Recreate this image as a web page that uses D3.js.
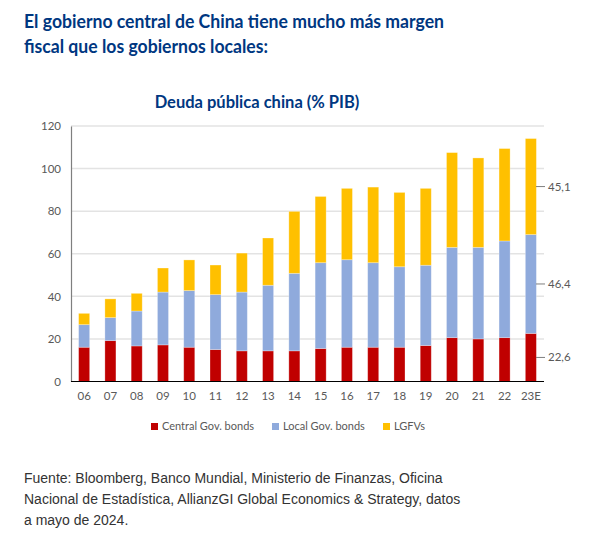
<!DOCTYPE html>
<html>
<head>
<meta charset="utf-8">
<script src="https://cdn.jsdelivr.net/npm/d3@7"></script>
<style>
  html, body { margin: 0; padding: 0; background: #fff; }
  svg { display: block; }
</style>
</head>
<body>
<svg id="chart" width="615" height="546"></svg>
<script>
const years = ["06","07","08","09","10","11","12","13","14","15","16","17","18","19","20","21","22","23E"];
const centralGov = [16.1,19.2,16.7,17.2,16.1,15.0,14.4,14.4,14.4,15.5,16.1,16.1,16.1,16.9,20.6,20.0,20.6,22.6];
const localGov   = [10.6,10.8,16.4,24.8,26.6,25.8,27.6,30.8,36.4,40.3,41.1,39.7,37.8,37.7,42.4,43.0,45.4,46.4];
const lgfv       = [5.3,8.8,8.3,11.3,14.4,13.9,18.3,22.2,29.1,31.1,33.5,35.5,34.9,36.1,44.5,42.0,43.4,45.1];
const yTicks = [0,20,40,60,80,100,120];
const seriesNames = ["Central Gov. bonds","Local Gov. bonds","LGFVs"];
const seriesColors = ["#c00000","#8faadc","#ffc000"];
const rightLabels = ["22,6","46,4","45,1"];

const svg = d3.select("#chart");
const navy = "#003781";
const gray = "#595959";

// Titles
const t = svg.append("text").attr("x", 24).attr("fill", navy)
  .style("font-family", "Lato, 'Open Sans', sans-serif").style("font-weight", 700).style("font-size", "18.5px");
t.append("tspan").attr("x", 24).attr("y", 28).attr("textLength", 420).attr("lengthAdjust", "spacingAndGlyphs")
  .text("El gobierno central de China tiene mucho más margen");
t.append("tspan").attr("x", 24).attr("y", 53).attr("textLength", 244).attr("lengthAdjust", "spacingAndGlyphs")
  .text("fiscal que los gobiernos locales:");

svg.append("text").attr("x", 257).attr("y", 108).attr("text-anchor", "middle").attr("fill", navy)
  .style("font-family", "Lato, 'Open Sans', sans-serif").style("font-weight", 700).style("font-size", "16.5px")
  .text("Deuda pública china (% PIB)");

const plot = { left: 71, right: 544, top: 126, bottom: 381.5 };
const x = d3.scaleBand().domain(years).range([plot.left, plot.right]).paddingInner(0.58).paddingOuter(0.29);
const y = d3.scaleLinear().domain([0, 120]).range([plot.bottom, plot.top]);

// grid
svg.append("g").selectAll("line").data(yTicks.filter(d => d > 0)).join("line")
  .attr("x1", plot.left).attr("x2", plot.right)
  .attr("y1", d => y(d)).attr("y2", d => y(d))
  .attr("stroke", "#e3e3e3").attr("stroke-width", 1.5);

// left axis
const yAxis = d3.axisLeft(y).tickValues(yTicks).tickSize(0).tickPadding(10);
const ga = svg.append("g").attr("transform", `translate(${plot.left},0)`).call(yAxis);
ga.select(".domain").attr("stroke", "#7f7f7f").attr("stroke-width", 1.2);
ga.selectAll("text").attr("fill", gray).style("font-family", "Lato, sans-serif").style("font-size", "11.5px");

// stacked data
const rows = years.map((yr, i) => ({ year: yr, c: centralGov[i], l: localGov[i], g: lgfv[i] }));
const stack = d3.stack().keys(["c","l","g"])(rows);

svg.append("g").selectAll("g").data(stack).join("g")
  .attr("fill", (d, i) => seriesColors[i])
  .selectAll("rect").data(d => d).join("rect")
  .attr("x", d => x(d.data.year))
  .attr("width", x.bandwidth())
  .attr("y", d => y(d[1]))
  .attr("height", d => y(d[0]) - y(d[1]))
  .attr("stroke", "rgba(255,255,255,0.35)").attr("stroke-width", 0.8);

// baseline
svg.append("line").attr("x1", plot.left).attr("x2", plot.right)
  .attr("y1", y(0)).attr("y2", y(0)).attr("stroke", "#000").attr("stroke-width", 1.2);

// x axis labels
const xAxis = d3.axisBottom(x).tickSize(0).tickPadding(10);
const gx = svg.append("g").attr("transform", `translate(0,${y(0)})`).call(xAxis);
gx.select(".domain").remove();
gx.selectAll("text").attr("fill", gray).style("font-family", "Lato, sans-serif").style("font-size", "11.5px");

// right labels for last bar
const last = stack.map(s => s[s.length - 1]);
const rg = svg.append("g");
last.forEach((d, i) => {
  const ym = y((d[0] + d[1]) / 2);
  rg.append("line").attr("x1", plot.right - 8).attr("x2", plot.right + 1)
    .attr("y1", ym).attr("y2", ym).attr("stroke", "#7f7f7f").attr("stroke-width", 1);
  rg.append("text").attr("x", plot.right + 4).attr("y", ym).attr("dy", "0.35em")
    .attr("fill", gray).style("font-family", "Lato, sans-serif").style("font-size", "11.5px")
    .text(rightLabels[i]);
});

// legend
const legendX = [151, 272, 383];
const lg = svg.append("g");
seriesNames.forEach((n, i) => {
  lg.append("rect").attr("x", legendX[i]).attr("y", 423).attr("width", 7).attr("height", 7).attr("fill", seriesColors[i]);
  lg.append("text").attr("x", legendX[i] + 11).attr("y", 426.5).attr("dy", "0.35em")
    .attr("fill", gray).style("font-family", "Lato, sans-serif").style("font-size", "11px").text(n);
});

// footer
const f = svg.append("text").attr("fill", "#333")
  .style("font-family", "'Liberation Sans', Arial, sans-serif").style("font-size", "14px");
["Fuente: Bloomberg, Banco Mundial, Ministerio de Finanzas, Oficina",
 "Nacional de Estadística, AllianzGI Global Economics & Strategy, datos",
 "a mayo de 2024."].forEach((s, i) => {
  f.append("tspan").attr("x", 24).attr("y", 483 + i * 21).text(s);
});
</script>
</body>
</html>
